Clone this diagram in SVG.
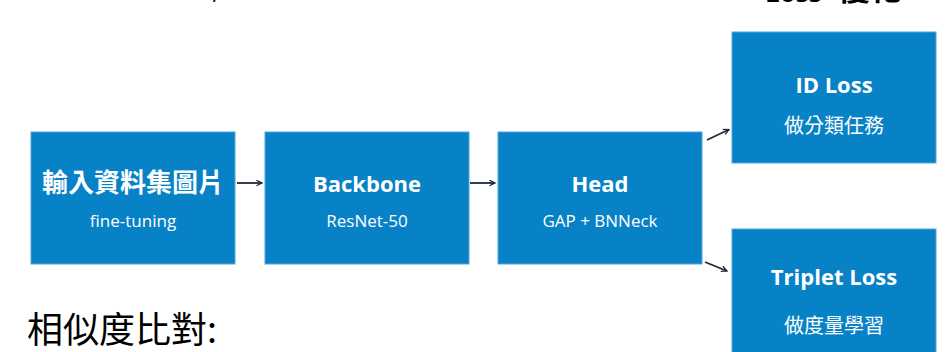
<svg xmlns="http://www.w3.org/2000/svg" width="945" height="352" viewBox="0 0 945 352">
<style>
.box{fill:#0882C6;stroke:#4DA6DC;stroke-width:1}
.t{font-family:"Open Sans","Noto Sans CJK TC",sans-serif;font-weight:700;fill:#fff;text-anchor:middle;font-size:22px}
.tc{font-family:"Noto Sans CJK TC",sans-serif;font-weight:700;fill:#fff;text-anchor:middle;font-size:26px}
.s{font-family:"Open Sans","Noto Sans CJK TC",sans-serif;fill:#fff;text-anchor:middle;font-size:17px}
.sc{font-family:"Noto Sans CJK TC",sans-serif;fill:#fff;text-anchor:middle;font-size:20px}
.c{stroke:#1E2A3A;stroke-width:1.8;fill:none;marker-end:url(#ah)}
</style>
<defs>
<marker id="ah" viewBox="0 0 10 10" refX="9" refY="5" markerWidth="7" markerHeight="7" orient="auto" markerUnits="userSpaceOnUse">
<path d="M1,1 L9,5 L1,9" fill="none" stroke="#1E2A3A" stroke-width="1.8"/>
</marker>
</defs>
<rect width="945" height="352" fill="#fff"/>
<text x="212" y="-1" font-family="Open Sans, sans-serif" font-size="26" fill="#000">,</text>
<text y="2" font-family="Open Sans,'Noto Sans CJK TC',sans-serif" font-weight="700" font-size="26" fill="#000"><tspan x="765">Loss</tspan><tspan x="838" y="0" font-family="Noto Sans CJK TC,sans-serif" font-size="32">優化</tspan></text>
<g id="n1"><rect class="box" x="31" y="132" width="204" height="132"/><text class="tc" x="133" y="192">輸入資料集圖片</text><text class="s" x="133" y="227">fine-tuning</text></g>
<g id="n2"><rect class="box" x="265" y="132" width="204" height="132"/><text class="t" x="367" y="192">Backbone</text><text class="s" x="367" y="227">ResNet-50</text></g>
<g id="n3"><rect class="box" x="498" y="132" width="204" height="132"/><text class="t" x="600" y="192">Head</text><text class="s" x="600" y="227">GAP + BNNeck</text></g>
<g id="n4"><rect class="box" x="732" y="32" width="204" height="131"/><text class="t" x="834" y="93">ID Loss</text><text class="sc" x="834" y="133">做分類任務</text></g>
<g id="n5"><rect class="box" x="732" y="229" width="204" height="132"/><text class="t" x="834" y="285">Triplet Loss</text><text class="sc" x="834" y="333">做度量學習</text></g>
<g id="connectors">
<line class="c" x1="237" y1="183" x2="262" y2="183"/>
<line class="c" x1="470" y1="183" x2="495" y2="183"/>
<line class="c" x1="707" y1="140" x2="729" y2="129.5"/>
<line class="c" x1="705" y1="262" x2="727" y2="271"/>
</g>
<text x="27" y="343" font-family="Noto Sans CJK TC,sans-serif" font-size="36" fill="#000">相似度比對:</text>
</svg>
